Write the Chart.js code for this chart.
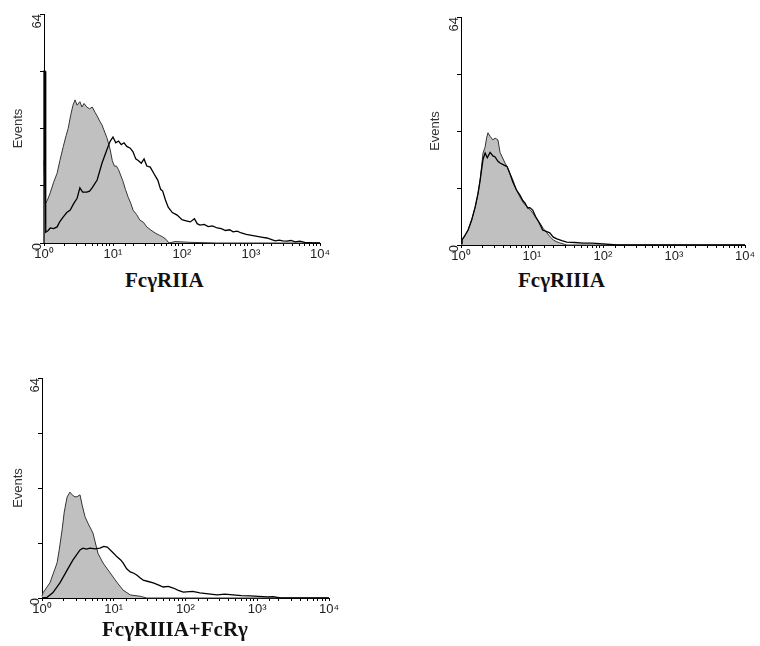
<!DOCTYPE html>
<html>
<head>
<meta charset="utf-8">
<script src="https://cdn.jsdelivr.net/npm/chart.js@4.4.0/dist/chart.umd.min.js"></script>
<style>
  body { margin: 0; background: #fff; width: 760px; height: 646px; position: relative; overflow: hidden; }
  .panel { position: absolute; }
  .name { position: absolute; font: bold 21px "Liberation Serif", "Times New Roman", serif; line-height: 1; color: #111; white-space: nowrap; }
</style>
</head>
<body>
<div class="panel" style="left:0;top:0"><canvas id="riia" width="335" height="265"></canvas></div>
<div class="panel" style="left:417px;top:0"><canvas id="riiia" width="343" height="267"></canvas></div>
<div class="panel" style="left:0;top:360px"><canvas id="riiiaG" width="345" height="260"></canvas></div>
<div class="name" style="left:125px;top:270px">FcγRIIA</div>
<div class="name" style="left:518px;top:270px">FcγRIIIA</div>
<div class="name" style="left:102px;top:619px">FcγRIIIA+FcRγ</div>
<script>
// x positions are in decades (log10 of fluorescence), y is events per channel

// FcγRIIA panel
const riiaCtrlX = [0, 0.01, 0.02, 0.05, 0.09, 0.14, 0.19, 0.23, 0.28, 0.32, 0.35, 0.39, 0.42, 0.45, 0.48, 0.52, 0.55, 0.58, 0.62, 0.66, 0.70, 0.74, 0.77, 0.81, 0.84, 0.88, 0.91, 0.94, 0.96, 0.99, 1.02, 1.05, 1.08, 1.11, 1.14, 1.18, 1.22, 1.26, 1.29, 1.34, 1.39, 1.44, 1.49, 1.55, 1.61, 1.67, 1.72, 1.77, 1.81, 1.9, 2.1, 2.5, 4.0];
const riiaCtrlY = [23, 23, 11, 12, 14, 17, 19.5, 23, 27, 30, 32, 36, 38.5, 40, 38.5, 39.5, 38, 39, 38, 37.5, 38, 36.5, 35.5, 34, 33, 31, 29.5, 27.5, 26, 23, 21.5, 21.5, 20.5, 19, 17.5, 15, 12.8, 11, 9.2, 8, 6.4, 5.8, 4.5, 3.6, 2.8, 2.2, 1.7, 1.0, 0, 0.4, 0.2, 0, 0];
const riiaTestX = [0, 0, 0.015, 0.025, 0.06, 0.09, 0.14, 0.19, 0.23, 0.28, 0.33, 0.38, 0.43, 0.48, 0.52, 0.56, 0.62, 0.66, 0.70, 0.77, 0.84, 0.91, 0.96, 1.0, 1.04, 1.08, 1.12, 1.16, 1.2, 1.25, 1.29, 1.33, 1.37, 1.41, 1.45, 1.49, 1.54, 1.59, 1.65, 1.69, 1.72, 1.76, 1.80, 1.86, 1.93, 2.0, 2.06, 2.12, 2.18, 2.22, 2.26, 2.32, 2.38, 2.44, 2.51, 2.57, 2.63, 2.69, 2.74, 2.80, 2.86, 2.93, 2.99, 3.05, 3.11, 3.17, 3.23, 3.29, 3.35, 3.41, 3.46, 3.52, 3.58, 3.64, 3.71, 3.78, 3.9, 4.0];
const riiaTestY = [0, 48, 48, 3, 3.5, 4.2, 4.0, 4.5, 6, 7.3, 8.5, 9.2, 11, 12.5, 15.4, 14.2, 14.2, 14.5, 15.5, 17.6, 22.3, 26, 28.5, 29.6, 28, 28.5, 27.5, 28, 27, 26.5, 25.5, 23.5, 23, 22.3, 23.5, 21.5, 21.2, 19.5, 17.5, 15, 14.5, 12, 10, 8.5, 7.8, 6.5, 6.2, 5.9, 6.8, 5.4, 5, 5.2, 4.6, 4.8, 4.2, 4.0, 3.5, 3.7, 3.1, 3.3, 2.8, 2.4, 2.2, 2.0, 1.8, 1.6, 1.4, 1.0, 0.6, 0.8, 0.6, 0.5, 0.7, 0.3, 0.5, 0.2, 0, 0];

// FcγRIIIA panel
const riiiaCtrlX = [0, 0.014, 0.05, 0.1, 0.15, 0.2, 0.24, 0.27, 0.31, 0.34, 0.36, 0.38, 0.41, 0.45, 0.48, 0.52, 0.55, 0.58, 0.62, 0.65, 0.69, 0.73, 0.78, 0.83, 0.88, 0.93, 0.97, 1.01, 1.06, 1.11, 1.16, 1.21, 1.26, 1.30, 1.35, 1.39, 1.49, 4.0];
const riiiaCtrlY = [0.5, 1.4, 2.5, 4.2, 7, 10.7, 14.5, 18.3, 25.8, 27.5, 30, 31.5, 30.5, 29.5, 30, 29.5, 26, 24.7, 23, 22, 20, 18.3, 15.5, 13.5, 11.8, 10.7, 10, 9, 7.5, 6.2, 4.6, 3.4, 2.2, 1.4, 0.9, 0.6, 0, 0];
const riiiaTestX = [0, 0.014, 0.05, 0.1, 0.15, 0.2, 0.24, 0.27, 0.31, 0.34, 0.37, 0.41, 0.45, 0.48, 0.52, 0.55, 0.6, 0.65, 0.69, 0.73, 0.78, 0.83, 0.87, 0.90, 0.94, 0.97, 1.01, 1.05, 1.08, 1.12, 1.15, 1.2, 1.25, 1.30, 1.35, 1.42, 1.49, 1.6, 1.72, 1.85, 2.0, 2.2, 4.0];
const riiiaTestY = [0.3, 1.4, 2.5, 4.2, 7, 10.7, 14.5, 18.3, 24, 25.8, 24.5, 26, 25, 24.7, 23.5, 23, 22.5, 22, 20, 17.7, 15.5, 14, 12.5, 11.8, 10.4, 10.5, 9.8, 8, 7, 5.5, 4.2, 3.8, 3.4, 2.2, 1.7, 1.2, 0.8, 0.7, 0.5, 0.5, 0.3, 0, 0];

// FcγRIIIA+FcRγ panel
const riiiaGCtrlX = [0, 0.014, 0.11, 0.21, 0.24, 0.28, 0.31, 0.35, 0.39, 0.42, 0.46, 0.49, 0.53, 0.56, 0.6, 0.64, 0.71, 0.78, 0.85, 0.95, 1.05, 1.13, 1.23, 1.37, 1.46, 4.0];
const riiiaGCtrlY = [0.5, 1.5, 4.4, 10.2, 14, 19.8, 25, 29.4, 30.8, 30, 29.4, 29.5, 30, 27, 23.6, 21.8, 18.9, 13, 10.2, 7.3, 4.4, 2.3, 0.9, 0.5, 0, 0];
const riiiaGTestX = [0, 0.07, 0.15, 0.25, 0.35, 0.43, 0.53, 0.57, 0.62, 0.67, 0.74, 0.81, 0.86, 0.91, 0.98, 1.05, 1.1, 1.13, 1.18, 1.23, 1.28, 1.32, 1.37, 1.41, 1.48, 1.55, 1.62, 1.69, 1.76, 1.83, 1.9, 1.97, 2.1, 2.2, 2.32, 2.44, 2.55, 2.66, 2.78, 2.9, 3.02, 3.14, 3.22, 3.32, 4.0];
const riiiaGTestY = [0, 0.2, 1.5, 4.4, 8.1, 11, 14, 14.5, 14.2, 14.5, 14.3, 14.5, 15, 14.8, 13.4, 11.9, 11, 10.2, 8.5, 7.6, 7.2, 6.7, 5.8, 5.2, 4.8, 4.4, 3.8, 3.2, 3.4, 2.9, 2.2, 1.7, 1.9, 1.5, 1.2, 0.9, 1.1, 0.9, 0.7, 0.6, 0.5, 0.3, 0.4, 0, 0];

const yTickLabels = [0, 64];
const decadeLabels = ['10⁰', '10¹', '10²', '10³', '10⁴'];

const tickFont = { family: 'Liberation Sans', size: 13 };

function points(xs, ys) {
  return xs.map((e, i) => ({ x: Math.pow(10, e), y: ys[i] }));
}

function decadeLabel(value) {
  const e = Math.log10(value);
  const r = Math.round(e);
  return Math.abs(e - r) < 1e-6 ? decadeLabels[r] : '';
}

function histogram(id, axisLeft, padTop, padRight, ctrlX, ctrlY, testX, testY) {
  return new Chart(document.getElementById(id), {
    type: 'line',
    data: {
      datasets: [
        {
          data: points(ctrlX, ctrlY),
          fill: 'origin',
          backgroundColor: '#c0c0c0',
          borderColor: '#333',
          borderWidth: 1,
          pointRadius: 0,
          clip: 4,
          order: 2,
        },
        {
          data: points(testX, testY),
          fill: false,
          borderColor: '#000',
          borderWidth: 1.3,
          pointRadius: 0,
          clip: 4,
          order: 1,
        },
      ],
    },
    options: {
      responsive: false,
      animation: false,
      events: [],
      layout: { padding: { top: padTop, right: padRight, left: 0, bottom: 0 } },
      plugins: { legend: { display: false }, tooltip: { enabled: false } },
      scales: {
        x: {
          type: 'logarithmic',
          min: 1,
          max: 10000,
          afterFit: (s) => { s.height = 22; },
          border: { color: '#000', width: 1 },
          grid: { drawOnChartArea: false, tickLength: 3, color: '#000' },
          ticks: {
            autoSkip: false,
            maxRotation: 0,
            padding: 1,
            font: tickFont,
            color: '#222',
            callback: (v) => decadeLabel(v),
          },
        },
        y: {
          min: 0,
          max: 64,
          afterFit: (s) => { s.width = axisLeft; },
          border: { color: '#000', width: 1 },
          grid: { drawOnChartArea: false, tickLength: 4, color: '#000' },
          ticks: {
            stepSize: 16,
            minRotation: 90,
            maxRotation: 90,
            padding: 3,
            font: tickFont,
            color: '#222',
            callback: (v) => (yTickLabels.includes(v) ? String(v) : ''),
          },
          title: {
            display: true,
            text: 'Events',
            font: { family: 'Liberation Sans', size: 13 },
            color: '#333',
            padding: { top: 11, bottom: 0 },
          },
        },
      },
    },
  });
}

histogram('riia', 44, 14, 15, riiaCtrlX, riiaCtrlY, riiaTestX, riiaTestY);
histogram('riiia', 44, 17, 15, riiiaCtrlX, riiiaCtrlY, riiiaTestX, riiiaTestY);
histogram('riiiaG', 42, 18, 16, riiiaGCtrlX, riiiaGCtrlY, riiiaGTestX, riiiaGTestY);
</script>
</body>
</html>
